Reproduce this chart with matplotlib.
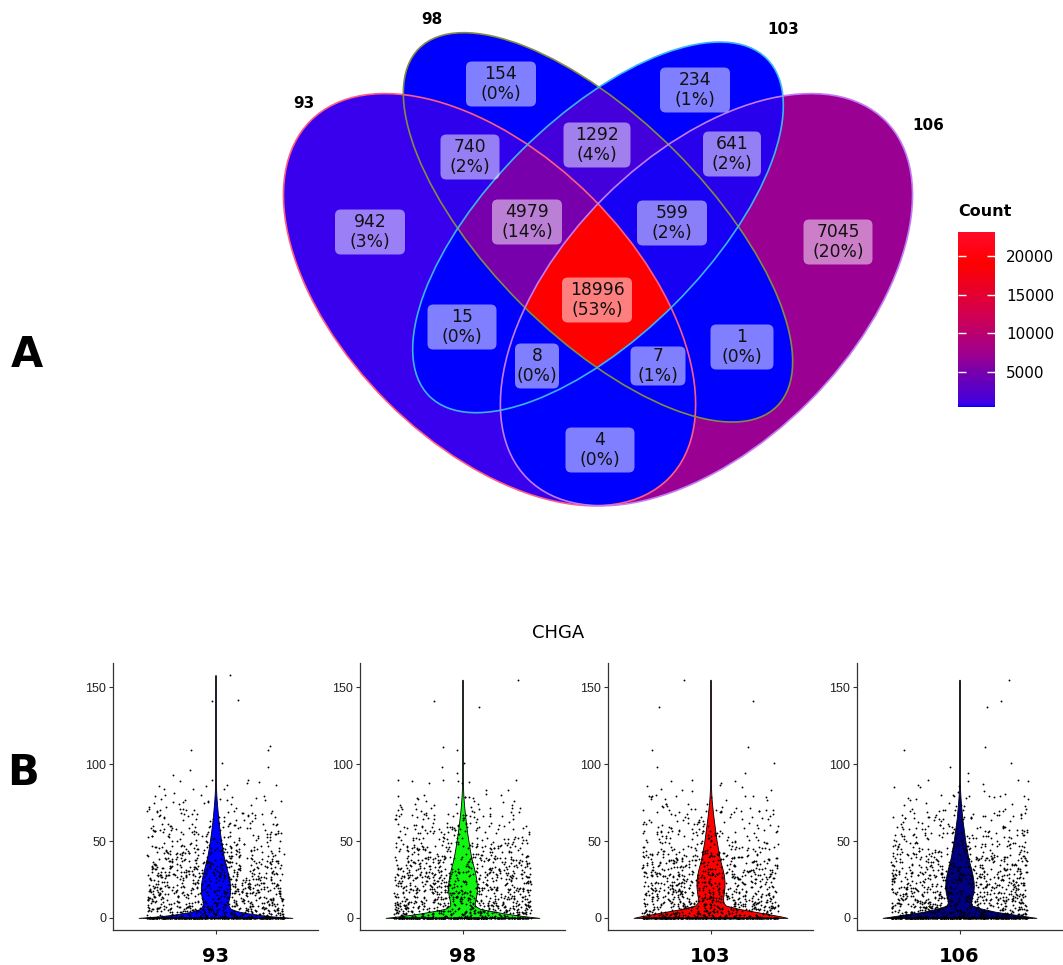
import numpy as np
import matplotlib
matplotlib.use("Agg")
import matplotlib.pyplot as plt
from matplotlib.patches import Ellipse, FancyBboxPatch
from matplotlib.colors import LinearSegmentedColormap, Normalize
from matplotlib.cm import ScalarMappable

# ── Venn data ─────────────────────────────────────────────────────────────────
set_names = ["93", "98", "103", "106"]
region_sets = ["93", "98", "103", "106",
               "93&98", "93&103", "93&106", "98&103", "98&106", "103&106",
               "93&98&103", "93&98&106", "93&103&106", "98&103&106",
               "93&98&103&106"]
region_counts = [942, 154, 234, 7045,
                 740, 15, 4, 1292, 1, 641,
                 4979, 7, 8, 599,
                 18996]
region_pcts = [3, 0, 1, 20,
               2, 0, 0, 4, 0, 2,
               14, 1, 0, 2,
               53]
count_limits = [450, 23100]
cbar_ticks = [5000, 10000, 15000, 20000]

# ── Violin data (CHGA) ────────────────────────────────────────────────────────
samples = ["93", "98", "103", "106"]
prof_y = [0, 1, 2, 3, 4, 5, 6, 8, 10, 13, 16, 20, 24, 28, 32, 36, 40,
          45, 50, 55, 60, 65, 70, 75, 80, 85, 90, 158]
prof_w = {
    "93":  [0.45, 0.33, 0.25, 0.19, 0.14, 0.11, 0.088, 0.076, 0.074, 0.08, 0.085, 0.086, 0.082, 0.075,
            0.066, 0.057, 0.048, 0.040, 0.033, 0.027, 0.021, 0.016, 0.012, 0.008, 0.005, 0.003, 0.0015, 0.001],
    "98":  [0.45, 0.37, 0.30, 0.24, 0.19, 0.14, 0.10, 0.072, 0.072, 0.078, 0.083, 0.085, 0.082, 0.076,
            0.068, 0.058, 0.050, 0.042, 0.035, 0.028, 0.022, 0.017, 0.012, 0.008, 0.005, 0.003, 0.0015, 0.001],
    "103": [0.45, 0.41, 0.36, 0.31, 0.26, 0.21, 0.16, 0.09, 0.075, 0.074, 0.078, 0.082, 0.082, 0.078,
            0.070, 0.060, 0.052, 0.044, 0.036, 0.030, 0.024, 0.018, 0.013, 0.008, 0.005, 0.003, 0.0015, 0.001],
    "106": [0.45, 0.39, 0.33, 0.27, 0.21, 0.17, 0.13, 0.075, 0.068, 0.072, 0.080, 0.084, 0.082, 0.076,
            0.068, 0.058, 0.050, 0.042, 0.034, 0.028, 0.022, 0.016, 0.012, 0.008, 0.005, 0.003, 0.0015, 0.001],
}
# cells per expression band (lo, hi]; first band = exact zeros
band_lo = [0, 0, 5, 10, 20, 30, 40, 50, 60, 70, 80]
band_hi = [0, 5, 10, 20, 30, 40, 50, 60, 70, 80, 90]
band_counts = {
    "93":  [320, 130, 110, 180, 165, 140, 100, 70, 50, 28, 12],
    "98":  [320, 140, 120, 190, 170, 140, 95, 70, 50, 30, 10],
    "103": [330, 130, 110, 175, 160, 130, 90, 60, 45, 28, 10],
    "106": [340, 140, 115, 185, 165, 135, 95, 70, 50, 25, 12],
}
# high cells: (jitter offset, expression)
outliers = {
    "93":  [(0.085, 158), (-0.022, 141), (0.133, 142), (0.319, 112), (0.309, 109), (-0.143, 109),
            (-0.149, 96), (0.309, 98), (0.036, 101), (-0.25, 93), (-0.02, 90), (0.19, 90)],
    "98":  [(0.326, 155), (-0.169, 141), (0.097, 137), (-0.115, 111), (-0.033, 109), (-0.12, 98),
            (0.006, 101), (-0.03, 94), (-0.295, 89)],
    "103": [(-0.155, 155), (-0.30, 137), (0.25, 141), (0.22, 111), (-0.345, 109), (-0.316, 98),
            (0.37, 101), (0.2, 94), (-0.11, 90), (-0.23, 89)],
    "106": [(0.29, 155), (0.24, 141), (0.16, 137), (-0.325, 109), (0.15, 111), (0.3, 101),
            (-0.057, 98), (0.048, 94), (0.345, 90), (0.4, 89)],
}

# ── Styles / layout ───────────────────────────────────────────────────────────
W, H = 1063, 965
ell_x = [0.35, 0.50, 0.50, 0.65]
ell_y = [0.47, 0.57, 0.57, 0.47]
ell_a = [0.35, 0.35, 0.33, 0.35]
ell_b = [0.20, 0.15, 0.15, 0.20]
ell_rot = [135, 135, 45, 45]
ell_edge = ["#FF5C80", "#858a45", "#3CB4F2", "#C27CF5"]
violin_colors = ["#0000FF", "#11F511", "#FF0000", "#000080"]
cmap_nodes = [(450, "#0000FF"), (600, "#2800EB"), (950, "#3C00EE"), (1300, "#4600D8"),
              (5000, "#7800AC"), (7045, "#9B0092"), (12000, "#CF0055"),
              (19000, "#FF0000"), (23100, "#FF0A28")]
# label box centre (px in figure) and size (px), same order as region_sets
label_px = [(370, 232), (501, 84), (695, 90), (838, 242),
            (470, 157), (462, 327), (600, 450), (597, 145), (742, 347), (732, 154),
            (527, 222), (658, 366), (537, 366), (672, 223),
            (597, 300)]
box_wh = [(70, 45), (70, 45), (70, 45), (69, 45),
          (59, 45), (69, 45), (69, 45), (67, 45), (63, 45), (58, 45),
          (70, 45), (55, 39), (44, 45), (70, 45),
          (70, 45)]
set_label_px = [(304, 103), (432, 20), (783, 29), (928, 125)]


def fbox(l, t, w, h):
    return [l / W, 1 - (t + h) / H, w / W, h / H]


def px2d(px, py):  # figure px -> venn data
    return 0.5 + (px - 598) / 723, 0.186 + (505 - py) / 723


lo, hi = count_limits
cmap = LinearSegmentedColormap.from_list(
    "venn", [((v - lo) / (hi - lo), c) for v, c in cmap_nodes])
norm = Normalize(lo, hi)

fig = plt.figure(figsize=(W / 100, H / 100), dpi=100)
plt.rcParams["font.family"] = ["DejaVu Sans"]

# ── A: Venn ───────────────────────────────────────────────────────────────────
ax = fig.add_axes(fbox(260, 0, 680, 520))
xlim = (px2d(260, 0)[0], px2d(940, 0)[0])
ylim = (px2d(0, 520)[1], px2d(0, 0)[1])
gx = np.linspace(*xlim, 1400)
gy = np.linspace(*ylim, 1070)
X, Y = np.meshgrid(gx, gy)
code = np.zeros(X.shape, dtype=int)
for k in range(4):
    t = np.deg2rad(ell_rot[k])
    dx, dy = X - ell_x[k], Y - ell_y[k]
    u = dx * np.cos(t) + dy * np.sin(t)
    v = -dx * np.sin(t) + dy * np.cos(t)
    code |= (((u / ell_a[k]) ** 2 + (v / ell_b[k]) ** 2) <= 1).astype(int) << k

lookup = np.full(16, np.nan)
for name, cnt in zip(region_sets, region_counts):
    lookup[sum(1 << set_names.index(s) for s in name.split("&"))] = cnt
ax.imshow(lookup[code], origin="lower", extent=(*xlim, *ylim), cmap=cmap, norm=norm,
          interpolation="nearest", aspect="equal")

for k in range(4):
    ax.add_patch(Ellipse((ell_x[k], ell_y[k]), 2 * ell_a[k], 2 * ell_b[k], angle=ell_rot[k],
                         fill=False, ec=ell_edge[k], lw=1.2))

for cnt, p, (lx, ly), (bw, bh) in zip(region_counts, region_pcts, label_px, box_wh):
    cx, cy = px2d(lx, ly)
    ax.add_patch(FancyBboxPatch((cx - bw / 1446, cy - bh / 1446), bw / 723, bh / 723,
                                boxstyle="round,pad=0,rounding_size=0.008",
                                fc="white", alpha=0.5, ec="none"))
    ax.text(cx, cy, f"{cnt}\n({p}%)", ha="center", va="center", fontsize=12.3,
            color="#111111", linespacing=1.2)

for name, (sx, sy) in zip(set_names, set_label_px):
    ax.text(*px2d(sx, sy), name, ha="center", va="center", fontsize=11, fontweight="bold",
            clip_on=False)
ax.set_xlim(*xlim)
ax.set_ylim(*ylim)
ax.axis("off")

cax = fig.add_axes(fbox(958, 232, 37, 175))
cb = fig.colorbar(ScalarMappable(norm=norm, cmap=cmap), cax=cax)
cb.set_ticks(cbar_ticks)
cb.outline.set_visible(False)
cax.tick_params(axis="y", direction="in", length=6, width=1, color="white",
                labelcolor="black", left=True, right=True, labelsize=11, pad=8)
fig.text(958 / W, 1 - 212 / H, "Count", ha="left", va="center", fontsize=11.5,
         fontweight="bold")

fig.text(27 / W, 1 - 355 / H, "A", ha="center", va="center", fontsize=30, fontweight="bold")
fig.text(23 / W, 1 - 773 / H, "B", ha="center", va="center", fontsize=30, fontweight="bold")

# ── B: violins ────────────────────────────────────────────────────────────────
fig.text(558 / W, 1 - 633 / H, "CHGA", ha="center", va="center", fontsize=13)

# quadratic Weyl jitter (deterministic, spreads the cells across each band)
ax1, ax2 = 0.7548776662466927, 0.4142135623730951
ay1, ay2 = 0.5698402909980532, 0.7320508075688772
for i, (name, left) in enumerate(zip(samples, [113, 360, 608, 857])):
    vx = fig.add_axes(fbox(left, 663, 205, 267))
    top = max(v for _, v in outliers[name])
    py = prof_y[:-1] + [top]
    w = np.array(prof_w[name])
    vx.fill_betweenx(py, 1 - w, 1 + w, facecolor=violin_colors[i], edgecolor="black",
                     linewidth=0.6, zorder=2)

    xs, ys = [], []
    off = 1 + 977 * i
    for blo, bhi, n in zip(band_lo, band_hi, band_counts[name]):
        idx = (np.arange(n) + off).astype(float)
        off += n
        fx = (idx * idx * ax1 + idx * ax2) % 1
        fy = (idx * idx * ay1 + idx * ay2) % 1
        xs.append(1 + (fx - 0.5) * 0.8)
        ys.append(blo + fy * (bhi - blo))
    xs.append(np.array([1 + d for d, _ in outliers[name]]))
    ys.append(np.array([v for _, v in outliers[name]]))
    vx.scatter(np.concatenate(xs), np.concatenate(ys), s=1.8, c="black", linewidths=0,
               zorder=3)

    vx.set_xlim(0.4, 1.6)
    vx.set_ylim(-7.9, 165.9)
    vx.set_yticks([0, 50, 100, 150])
    vx.set_xticks([1])
    vx.set_xticklabels([name], fontsize=14, fontweight="bold")
    for s in ("top", "right"):
        vx.spines[s].set_visible(False)
    for s in ("left", "bottom"):
        vx.spines[s].set_color("#333333")
        vx.spines[s].set_linewidth(0.9)
    vx.tick_params(axis="y", labelsize=9, length=3, color="#333333", labelcolor="#222222",
                   pad=2)
    vx.tick_params(axis="x", length=3, color="#333333", pad=9)
    for lab in vx.get_yticklabels():
        lab.set_family(["Liberation Sans", "DejaVu Sans"])

fig.savefig("out.png", dpi=100)
